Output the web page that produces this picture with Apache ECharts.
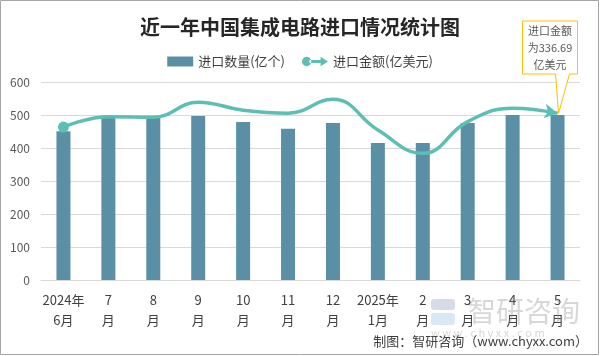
<!DOCTYPE html>
<html>
<head>
<meta charset="utf-8">
<script src="https://cdn.jsdelivr.net/npm/echarts@6/dist/echarts.min.js"></script>
<style>
html,body{margin:0;padding:0;background:#fff;}
#chart{width:600px;height:356px;}
</style>
</head>
<body>
<div id="chart"></div>
<script>
const months = ['2024年\n6月','7\n月','8\n月','9\n月','10\n月','11\n月','12\n月','2025年\n1月','2\n月','3\n月','4\n月','5\n月'];
const quantity = [451, 495, 495, 497, 479, 458, 476, 415, 415, 476, 500, 500];
const amount = [309, 330, 329, 359, 343, 337, 365, 303, 256, 320, 347, 336.69];
const yTicks = [0, 100, 200, 300, 400, 500, 600];
const seriesNames = ['进口数量(亿个)', '进口金额(亿美元)'];
const titleText = '近一年中国集成电路进口情况统计图';
const calloutLines = ['进口金额', '为336.69', '亿美元'];
const footerText = '制图：智研咨询（www.chyxx.com）';

const FONT = '"Noto Sans CJK SC", "Microsoft YaHei", sans-serif';
const BAR_COLOR = '#5b8fa6';
const LINE_COLOR = '#5cbfb3';

const chart = echarts.init(document.getElementById('chart'), null, {renderer: 'canvas'});

const lineData = amount.map((v, i) => {
  if (i === 0) return {value: v, symbol: 'circle', symbolSize: 11};
  if (i === amount.length - 1) return {value: v, symbol: 'arrow', symbolSize: [11, 13], symbolRotate: -100};
  return {value: v, symbol: 'none', symbolSize: 0};
});

chart.setOption({
  animation: false,
  backgroundColor: '#fff',
  textStyle: {fontFamily: FONT},
  title: {
    text: titleText,
    left: 'center',
    top: 12,
    textStyle: {fontFamily: FONT, fontSize: 20, fontWeight: 'bold', color: '#262626'}
  },
  legend: {
    top: 50,
    left: 'center',
    itemGap: 17,
    itemWidth: 26,
    itemHeight: 10,
    textStyle: {fontFamily: FONT, fontSize: 13, color: '#404040'},
    data: [
      {name: seriesNames[0], icon: 'rect'},
      {name: seriesNames[1], icon: 'path://M0,5a5,5 0 1,0 10,0a5,5 0 1,0 -10,0z M8,3.5h13v3h-13z M20,0L28,5L20,10z'}
    ]
  },
  grid: {left: 41, right: 20, top: 82, bottom: 76, containLabel: false},
  xAxis: {
    type: 'category',
    data: months,
    axisLine: {lineStyle: {color: '#d9d9d9'}},
    axisTick: {show: false},
    axisLabel: {fontFamily: FONT, fontSize: 13, color: '#404040', lineHeight: 20, margin: 10, interval: 0}
  },
  yAxis: [
    {
      type: 'value',
      min: yTicks[0],
      max: yTicks[yTicks.length - 1],
      interval: 100,
      axisLine: {show: false},
      axisTick: {show: false},
      axisLabel: {fontFamily: FONT, fontSize: 12, color: '#595959', margin: 11},
      splitLine: {lineStyle: {color: '#d9d9d9'}}
    },
    {
      type: 'value',
      min: 0,
      max: 400,
      show: false,
      splitLine: {show: false}
    }
  ],
  series: [
    {
      name: seriesNames[0],
      type: 'bar',
      data: quantity,
      barWidth: 14,
      itemStyle: {color: BAR_COLOR}
    },
    {
      name: seriesNames[1],
      type: 'line',
      yAxisIndex: 1,
      data: lineData,
      smooth: 0.45,
      showSymbol: true,
      showAllSymbol: true,
      symbol: 'none',
      lineStyle: {color: LINE_COLOR, width: 3.5},
      itemStyle: {color: LINE_COLOR}
    }
  ],
  graphic: [
    {
      id: 'border',
      type: 'rect',
      shape: {x: 0.5, y: 0.5, width: 598, height: 354},
      style: {fill: 'none', stroke: '#a6a6a6', lineWidth: 1},
      silent: true
    },
    {
      id: 'footer',
      type: 'text',
      right: 12,
      top: 335,
      style: {text: footerText, font: '13px ' + FONT, fill: '#404040'}
    }
  ]
});

const last = amount.length - 1;
const p = chart.convertToPixel({xAxisIndex: 0, yAxisIndex: 1}, [last, amount[last]]);
const boxL = p[0] - 35, boxR = p[0] + 20, boxT = 21, boxB = 74;
const boxCx = (boxL + boxR) / 2;

chart.setOption({
  graphic: [
    {
      id: 'callout',
      type: 'polygon',
      z: 100,
      shape: {points: [[boxL, boxT], [boxR, boxT], [boxR, boxB], [p[0] + 12, boxB], [p[0] + 1, p[1]], [p[0] - 2, boxB], [boxL, boxB]]},
      style: {fill: '#fff', stroke: '#ffc000', lineWidth: 1}
    },
    {
      id: 'calloutText',
      type: 'text',
      z: 101,
      x: boxCx,
      y: (boxT + boxB) / 2,
      style: {
        text: calloutLines.join('\n'),
        font: '11px ' + FONT,
        fill: '#595959',
        align: 'center',
        verticalAlign: 'middle',
        lineHeight: 17
      }
    },
    {
      id: 'wmLogo1',
      type: 'rect',
      z: 90,
      shape: {x: 431, y: 299, width: 24, height: 11, r: 3},
      style: {fill: 'rgba(120,140,170,0.30)'}
    },
    {
      id: 'wmLogo2',
      type: 'rect',
      z: 90,
      shape: {x: 431, y: 313, width: 24, height: 12, r: 3},
      style: {fill: 'rgba(150,190,225,0.35)'}
    },
    {
      id: 'wmText',
      type: 'text',
      z: 90,
      x: 468,
      y: 297,
      style: {text: '智研咨询', font: '28px ' + FONT, fill: 'rgba(140,140,140,0.35)'}
    },
    {
      id: 'wmUrl',
      type: 'text',
      z: 90,
      x: 431,
      y: 327,
      style: {text: 'w w w . c h y x x . c o m', font: '11px ' + FONT, fill: 'rgba(140,140,140,0.35)'}
    }
  ]
});
</script>
</body>
</html>
